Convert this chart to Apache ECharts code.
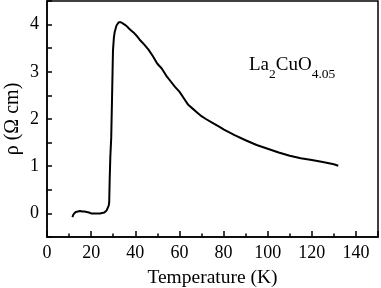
<!DOCTYPE html>
<html><head><meta charset="utf-8">
<script src="https://cdn.jsdelivr.net/npm/echarts@6/dist/echarts.min.js"></script>
<style>html,body{margin:0;padding:0;background:#fff}#c{width:381px;height:288px}</style>
</head><body><div id="c"></div>
<script>
var temperature = [11.5,12,13,14,15,16,17,18,19,20,22,24,25,26,27,27.5,28,28.2,28.4,28.7,29.1,29.5,29.9,30.3,30.7,31.5,32.5,33.5,34.5,35.5,36.5,37.5,38.5,39.5,40.5,42,44,46,48,50,52,54,56,58,60,62,64,66,68,70,72,75,78,80,85,90,95,100,105,110,115,120,125,130,132];
var resistivity = [-0.08,-0.02,0.03,0.04,0.05,0.04,0.04,0.03,0.02,0.0,0.0,0.0,0.01,0.02,0.06,0.1,0.17,0.25,0.7,1.2,1.6,2.5,3.45,3.72,3.85,3.98,4.05,4.05,4.02,3.99,3.95,3.9,3.86,3.82,3.77,3.68,3.58,3.47,3.33,3.17,3.07,2.92,2.8,2.68,2.58,2.44,2.3,2.22,2.14,2.06,2.0,1.92,1.84,1.78,1.66,1.55,1.45,1.37,1.29,1.22,1.17,1.13,1.09,1.04,1.01];
var xTicks = [0,20,40,60,80,100,120,140];
var yTicks = [0,1,2,3,4];
var F = 'Liberation Serif';
var pts = temperature.map(function(t,i){return [t,resistivity[i]];});
var chart = echarts.init(document.getElementById('c'));
chart.setOption({
  animation:false,
  textStyle:{fontFamily:F},
  grid:{left:47,right:3,top:1,bottom:51,show:true,borderColor:'#000',borderWidth:1.5,outerBoundsMode:'none',containLabel:false},
  xAxis:{type:'value',min:0,max:150,interval:20,
    name:'Temperature (K)',nameLocation:'middle',nameGap:31,nameMoveOverlap:false,
    nameTextStyle:{fontFamily:F,fontSize:19.5,color:'#000'},
    axisLine:{onZero:false,lineStyle:{color:'#000',width:1.5}},
    axisTick:{inside:true,length:6,lineStyle:{color:'#000',width:1.5}},
    minorTick:{show:true,splitNumber:2,length:3.5,lineStyle:{color:'#000',width:1.5}},
    axisLabel:{fontFamily:F,fontSize:18,color:'#000',margin:7,
      formatter:function(v){return xTicks.indexOf(v)>=0?String(v):'';}},
    splitLine:{show:false}},
  yAxis:{type:'value',min:-0.5,max:4.5,interval:0.5,
    name:'ρ (Ω cm)',nameLocation:'middle',nameGap:24,nameMoveOverlap:false,
    nameTextStyle:{fontFamily:F,fontSize:20,color:'#000'},
    axisLine:{onZero:false,lineStyle:{color:'#000',width:1.5}},
    axisTick:{inside:true,length:5,lineStyle:{color:'#000',width:1.5}},
    axisLabel:{fontFamily:F,fontSize:18,color:'#000',margin:8,
      formatter:function(v){return yTicks.indexOf(v)>=0?String(v):'';}},
    splitLine:{show:false}},
  series:[{type:'line',data:pts,showSymbol:false,symbol:'none',
    lineStyle:{color:'#000',width:2},smooth:false}],
  graphic:[{type:'text',left:249,top:56,
    style:{text:'{m|La}{s|2}{m|CuO}{s|4.05}',
      rich:{m:{fontFamily:F,fontSize:19,fill:'#000',verticalAlign:'bottom'},
            s:{fontFamily:F,fontSize:13.5,fill:'#000',padding:[0,0,-6,0],verticalAlign:'bottom'}}}}]
});
</script></body></html>
